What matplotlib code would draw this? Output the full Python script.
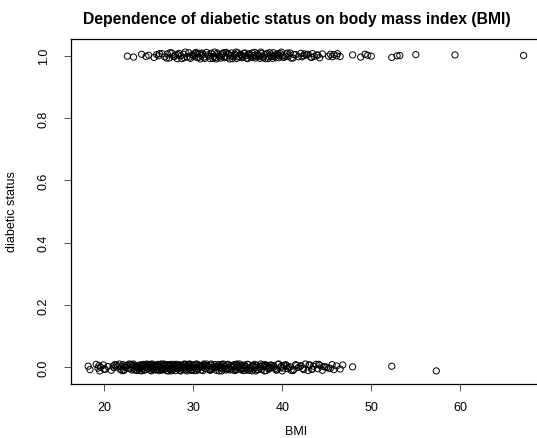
import matplotlib
matplotlib.use("Agg")
import matplotlib.pyplot as plt

plt.rcParams['font.family'] = ['Liberation Sans', 'DejaVu Sans']

# BMI of non-diabetic subjects (status 0)
bmi_neg = [
    18.2, 18.4, 19.1, 19.3, 19.4, 19.5, 19.6, 19.9, 20.0, 20.4,
    20.8, 21.0, 21.1, 21.7, 21.8, 21.9, 22.1, 22.2, 22.4, 22.5,
    22.6, 22.9, 23.0, 23.1, 23.2, 23.3, 23.5, 23.6, 23.7, 23.8,
    23.9, 24.0, 24.2, 24.3, 24.4, 24.6, 24.7, 24.8, 24.9, 25.0,
    25.1, 25.2, 25.3, 25.4, 25.5, 25.6, 25.8, 25.9, 26.0, 26.1,
    26.2, 26.3, 26.4, 26.5, 26.6, 26.7, 26.8, 27.0, 27.1, 27.2,
    27.3, 27.4, 27.5, 27.6, 27.7, 27.8, 27.9, 28.0, 28.1, 28.2,
    28.3, 28.4, 28.5, 28.6, 28.7, 28.9, 29.0, 29.2, 29.3, 29.5,
    29.6, 29.7, 29.8, 29.9, 30.0, 30.1, 30.2, 30.4, 30.5, 30.8,
    30.9, 31.0, 31.2, 31.3, 31.6, 31.9, 32.0, 32.1, 32.4, 32.5,
    32.8, 32.9, 33.1, 33.2, 33.3, 33.6, 33.7, 33.8, 34.0, 34.2,
    34.3, 34.5, 34.6, 34.7, 34.9, 35.0, 35.1, 35.3, 35.4, 35.5,
    35.7, 35.8, 35.9, 36.1, 36.3, 36.5, 36.6, 36.8, 37.1, 37.2,
    37.4, 37.6, 37.7, 37.9, 38.1, 38.2, 38.4, 38.5, 38.7, 39.0,
    39.1, 39.4, 39.5, 39.8, 40.0, 40.2, 40.5, 40.6, 40.9, 41.0,
    41.3, 41.5, 41.8, 42.1, 42.3, 42.6, 42.9, 43.1, 43.3, 43.5,
    43.8, 44.0, 44.2, 44.5, 44.6, 45.0, 45.2, 45.6, 45.8, 46.1,
    46.5, 46.8, 47.9, 52.3, 57.3,
    20.1, 21.2, 21.5, 22.0, 22.3, 22.7, 22.8, 23.4, 23.9, 24.1,
    24.2, 24.5, 24.6, 24.9, 25.2, 25.3, 25.6, 25.7, 25.9, 26.0,
    26.1, 26.4, 26.6, 26.9, 27.0, 27.2, 27.4, 27.6, 27.8, 27.9,
    28.0, 28.2, 28.4, 28.6, 28.8, 28.9, 29.1, 29.3, 29.4, 29.6,
    29.7, 29.9, 30.0, 30.3, 30.5, 30.7, 30.9, 31.1, 31.2, 31.4,
    31.6, 31.8, 32.0, 32.2, 32.4, 32.6, 32.8, 33.0, 33.2, 33.5,
    33.7, 33.9, 34.1, 34.4, 34.6, 34.8, 35.0, 35.2, 35.5, 35.6,
    35.9, 36.0, 36.2, 36.4, 36.7, 36.9, 37.0, 37.3, 37.5, 37.8,
    38.0, 38.3, 38.6, 38.8, 39.2, 39.3, 39.6, 39.9, 40.1, 40.4,
    40.7, 41.2, 41.6, 42.0, 42.4, 43.0, 43.4, 44.1, 44.8, 45.4,
    23.3, 23.6, 24.0, 24.4, 24.8, 25.1, 25.4, 25.8, 26.2, 26.5,
    26.8, 27.1, 27.3, 27.5, 27.7, 28.1, 28.3, 28.5, 28.7, 29.0,
    29.2, 29.5, 29.8, 30.1, 30.4, 30.6, 31.0, 31.5, 31.9, 32.3,
    32.7, 33.1, 33.4, 33.8, 34.2, 34.5, 34.9, 35.3, 35.8, 36.2,
    36.6, 37.0, 37.5, 38.0, 38.5, 39.0, 21.4, 22.2, 23.0, 24.3,
]
# jittered status values for the same points
status_neg = [
    0.004, -0.007, 0.010, -0.002, 0.006, -0.011, 0.001, 0.008, -0.005, 0.003,
    -0.009, 0.005, -0.001, 0.011, -0.006, 0.002, 0.009, -0.010, 0.000, 0.007,
    0.006, -0.003, 0.009, -0.008, 0.001, 0.011, -0.005, 0.004, -0.010, 0.002,
    -0.004, 0.008, -0.011, 0.003, 0.010, -0.007, 0.000, 0.006, -0.002, 0.009,
    0.001, -0.009, 0.005, 0.011, -0.004, 0.007, -0.008, 0.002, 0.010, -0.006,
    -0.010, 0.003, -0.001, 0.008, -0.007, 0.011, 0.004, -0.003, 0.009, -0.011,
    0.007, -0.005, 0.010, 0.000, -0.008, 0.005, 0.002, -0.010, 0.006, -0.002,
    -0.003, 0.009, -0.009, 0.006, 0.001, -0.006, 0.011, 0.003, -0.011, 0.008,
    0.010, -0.001, 0.004, -0.007, 0.008, -0.010, 0.000, 0.011, -0.004, 0.005,
    -0.008, 0.006, 0.011, -0.003, 0.002, -0.009, 0.007, -0.006, 0.009, 0.001,
    0.005, -0.011, 0.000, 0.010, -0.005, 0.003, -0.008, 0.008, -0.002, 0.007,
    -0.006, 0.002, 0.009, -0.010, 0.011, -0.001, 0.004, -0.007, 0.006, -0.004,
    0.008, -0.009, 0.003, 0.010, -0.003, 0.000, -0.011, 0.005, 0.007, -0.008,
    -0.002, 0.011, -0.006, 0.004, 0.009, -0.010, 0.001, -0.005, 0.008, 0.006,
    0.003, -0.008, 0.010, -0.001, -0.011, 0.007, 0.005, -0.004, 0.002, -0.009,
    -0.007, 0.009, 0.000, 0.006, -0.003, 0.011, -0.010, 0.008, -0.006, 0.004,
    0.010, -0.004, 0.007, -0.009, 0.003, 0.001, -0.002, 0.009, -0.007, 0.005,
    -0.005, 0.008, 0.002, 0.004, -0.011,
    -0.006, 0.009, 0.002, -0.010, 0.005, -0.003, 0.011, -0.008, 0.000, 0.007,
    0.003, -0.009, 0.008, -0.004, 0.010, -0.011, 0.001, 0.006, -0.007, 0.004,
    -0.002, 0.011, -0.006, 0.009, -0.010, 0.002, 0.007, -0.005, 0.010, -0.001,
    0.008, -0.003, 0.005, -0.011, 0.000, 0.009, -0.008, 0.003, -0.006, 0.011,
    -0.009, 0.004, -0.001, 0.010, -0.005, 0.007, 0.002, -0.010, 0.008, -0.004,
    0.006, -0.007, 0.011, -0.002, 0.003, -0.009, 0.009, 0.000, -0.011, 0.005,
    -0.004, 0.010, -0.008, 0.001, 0.007, -0.006, 0.004, 0.011, -0.003, -0.010,
    0.002, -0.005, 0.009, -0.009, 0.006, 0.010, -0.001, -0.007, 0.003, 0.008,
    -0.011, 0.005, 0.000, 0.007, -0.004, -0.008, 0.011, 0.004, -0.002, 0.009,
    0.001, -0.010, 0.006, 0.003, -0.007, 0.008, -0.005, 0.010, 0.002, -0.003,
    0.007, 0.000, -0.009, 0.005, 0.011, -0.002, -0.006, 0.003, 0.009, -0.008,
    -0.005, 0.008, 0.004, -0.011, 0.001, 0.010, -0.004, -0.009, 0.006, 0.002,
    0.010, -0.003, -0.007, 0.008, -0.010, 0.004, 0.001, 0.011, -0.006, 0.000,
    -0.001, 0.006, 0.011, -0.005, 0.002, -0.008, 0.009, -0.002, 0.005, -0.009,
    0.004, -0.011, 0.003, 0.007, -0.004, 0.000, 0.008, -0.007, 0.010, -0.003,
]

# BMI of diabetic subjects (status 1)
bmi_pos = [
    22.6, 23.3, 24.2, 24.7, 25.0, 25.6, 25.9, 26.1, 26.5, 26.8,
    27.1, 27.3, 27.6, 27.8, 28.0, 28.2, 28.4, 28.6, 28.9, 29.0,
    29.3, 29.5, 29.7, 29.9, 30.1, 30.3, 30.4, 30.5, 30.8, 30.9,
    31.0, 31.2, 31.6, 31.9, 32.0, 32.3, 32.4, 32.5, 32.8, 32.9,
    33.1, 33.3, 33.6, 33.7, 33.8, 34.0, 34.1, 34.3, 34.5, 34.6,
    34.7, 34.9, 35.0, 35.2, 35.4, 35.5, 35.7, 35.9, 36.1, 36.3,
    36.5, 36.6, 36.8, 37.0, 37.2, 37.4, 37.6, 37.8, 38.0, 38.1,
    38.3, 38.5, 38.7, 38.9, 39.0, 39.2, 39.4, 39.6, 39.8, 40.0,
    40.2, 40.5, 40.7, 40.9, 41.2, 41.5, 41.8, 42.1, 42.4, 42.7,
    42.9, 43.2, 43.4, 43.6, 44.0, 44.2, 44.5, 45.2, 45.4, 45.6,
    45.8, 46.1, 46.2, 46.5, 47.9, 48.8, 49.3, 49.6, 50.0, 52.3,
    52.9, 53.2, 55.0, 59.4, 67.1,
    26.2, 27.0, 27.4, 27.9, 28.3, 28.7, 29.1, 29.6, 30.0, 30.2,
    30.6, 31.1, 31.3, 31.5, 31.8, 32.1, 32.6, 32.7, 33.0, 33.2,
    33.4, 33.5, 33.9, 34.2, 34.4, 34.8, 35.1, 35.3, 35.6, 35.8,
    36.0, 36.2, 36.4, 36.7, 36.9, 37.1, 37.3, 37.5, 37.7, 37.9,
    38.2, 38.4, 38.6, 38.8, 39.1, 39.3, 39.5, 39.7, 39.9, 40.1,
    40.4, 40.6, 41.0, 41.3, 42.2, 42.5, 43.3, 43.9, 30.7, 32.2,
]
status_pos = [
    0.998, 0.995, 1.004, 0.997, 1.001, 0.994, 1.003, 0.999, 1.006, 0.996,
    1.005, 0.992, 1.008, 0.997, 1.002, 0.990, 1.007, 0.999, 1.004, 0.993,
    0.996, 1.009, 0.991, 1.003, 0.998, 1.010, 0.994, 1.006, 0.989, 1.001,
    1.008, 0.995, 1.002, 0.990, 1.007, 0.997, 1.011, 0.993, 1.004, 0.999,
    0.992, 1.006, 0.998, 1.010, 0.994, 1.003, 0.989, 1.008, 0.996, 1.001,
    1.004, 0.991, 1.009, 0.997, 1.002, 0.993, 1.007, 0.999, 0.990, 1.005,
    0.995, 1.008, 1.000, 0.992, 1.006, 0.998, 1.011, 0.994, 1.003, 0.990,
    1.007, 0.996, 1.002, 0.991, 1.009, 0.997, 1.004, 0.993, 1.006, 0.999,
    0.994, 1.005, 0.998, 1.008, 0.992, 1.003, 0.996, 1.007, 0.999, 1.002,
    1.004, 0.995, 1.006, 0.997, 1.001, 0.993, 1.005, 0.998, 1.004, 0.996,
    1.003, 0.999, 1.006, 0.997, 1.002, 0.995, 1.004, 1.001, 0.998, 0.994,
    0.999, 1.000, 1.003, 1.002, 1.000,
    1.006, 0.992, 1.009, 0.997, 1.003, 0.990, 1.011, 0.995, 1.001, 1.007,
    0.994, 1.004, 0.991, 1.010, 0.998, 1.005, 0.989, 1.008, 0.996, 1.002,
    1.009, 0.993, 1.006, 0.999, 0.990, 1.011, 0.995, 1.003, 0.997, 1.008,
    0.992, 1.005, 1.000, 0.994, 1.010, 0.998, 1.002, 0.991, 1.007, 0.996,
    1.004, 0.990, 1.009, 0.997, 1.001, 0.993, 1.006, 0.999, 1.011, 0.995,
    0.998, 1.008, 0.992, 1.003, 0.996, 1.005, 0.994, 1.002, 1.007, 0.991,
]

xticks = [20, 30, 40, 50, 60]
yticks = [0.0, 0.2, 0.4, 0.6, 0.8, 1.0]

fig = plt.figure(figsize=(5.37, 4.39), dpi=100)
ax = fig.add_axes([70.7 / 537, 54 / 439, 470.3 / 537, 345 / 439])

ax.scatter(bmi_neg, status_neg, s=20, facecolors='none', edgecolors='black', linewidths=0.7)
ax.scatter(bmi_pos, status_pos, s=20, facecolors='none', edgecolors='black', linewidths=0.7)

ax.set_xlim(16.24, 69.06)
ax.set_ylim(-0.053, 1.053)
ax.set_xticks(xticks)
ax.set_xticklabels([str(t) for t in xticks])
ax.set_yticks(yticks)
ax.set_yticklabels([f"{t:.1f}" for t in yticks], rotation=90, va='center')
ax.tick_params(axis='both', length=5, width=0.7, labelsize=9, color='#555555')
ax.tick_params(axis='x', pad=7)
ax.tick_params(axis='y', pad=10)
for sp in ax.spines.values():
    sp.set_linewidth(0.9)

fig.text(296.5 / 537, 1 - 19.5 / 439, "Dependence of diabetic status on body mass index (BMI)",
         ha='center', va='center', fontsize=11.3, fontweight='bold')
fig.text(296.5 / 537, 1 - 432 / 439, "BMI", ha='center', va='center', fontsize=9)
fig.text(12 / 537, 1 - 212 / 439, "diabetic status", ha='center', va='center',
         rotation=90, fontsize=9)

fig.savefig("out.png", dpi=100)
